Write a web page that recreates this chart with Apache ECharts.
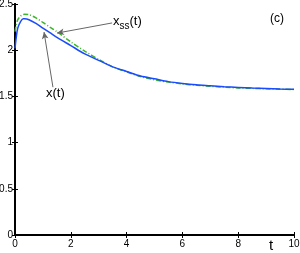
<!DOCTYPE html>
<html>
<head>
<meta charset="utf-8">
<script src="https://cdn.jsdelivr.net/npm/echarts@6/dist/echarts.min.js"></script>
<style>html,body{margin:0;padding:0;background:#fff}#c{width:300px;height:253px}</style>
</head>
<body>
<div id="c"></div>
<script>
var tValues = [0, 0.05, 0.1, 0.2, 0.3, 0.35, 0.5, 0.75, 1.0, 1.25, 1.5, 2.0, 2.5, 3.0, 3.5, 4.0, 4.5, 5.0, 5.5, 6.0, 6.5, 7.0, 7.5, 8.0, 8.5, 9.0, 9.5, 10];
var xValues = [2.02, 2.15, 2.24, 2.31, 2.34, 2.34, 2.33, 2.29, 2.24, 2.19, 2.14, 2.05, 1.96, 1.89, 1.82, 1.77, 1.72, 1.69, 1.66, 1.64, 1.625, 1.615, 1.605, 1.597, 1.59, 1.585, 1.58, 1.577];
var xssValues = [2.2, 2.28, 2.33, 2.37, 2.385, 2.39, 2.385, 2.35, 2.30, 2.25, 2.20, 2.09, 1.99, 1.90, 1.82, 1.765, 1.715, 1.68, 1.655, 1.635, 1.62, 1.61, 1.60, 1.592, 1.587, 1.582, 1.578, 1.575];
var xTicks = [0, 2, 4, 6, 8, 10];
var yTicks = [0, 0.5, 1, 1.5, 2, 2.5];
var arrowXss = [[3.48, 2.295], [1.505, 2.185]];
var arrowX = [[1.36, 1.60], [1.04, 2.197]];

function pairs(a, b) { return a.map(function (v, i) { return [v, b[i]]; }); }

var chart = echarts.init(document.getElementById('c'), null, {renderer: 'canvas'});
var font = 'Liberation Sans, Arial, Helvetica, sans-serif';
var axisLine = {show: true, lineStyle: {color: '#000', width: 2}};
var tick = {show: true, inside: true, length: 3, lineStyle: {color: '#000', width: 1}};
chart.setOption({
  animation: false,
  grid: {left: 15, right: 6, top: 4, bottom: 18, containLabel: false, outerBoundsMode: 'none'},
  xAxis: [
    {type: 'value', min: 0, max: 10, interval: 2, position: 'bottom',
     axisLine: axisLine, axisTick: tick, splitLine: {show: false},
     axisLabel: {color: '#000', fontSize: 10, fontFamily: font, margin: 4,
       formatter: function (v) { return xTicks.indexOf(v) >= 0 ? String(v) : ''; }}},
    {type: 'value', min: 0, max: 10, interval: 2, position: 'top',
     axisLine: axisLine, axisTick: tick, splitLine: {show: false}, axisLabel: {show: false}}
  ],
  yAxis: [
    {type: 'value', min: 0, max: 2.5, interval: 0.5, position: 'left',
     axisLine: axisLine, axisTick: tick, splitLine: {show: false},
     axisLabel: {color: '#000', fontSize: 10, fontFamily: font, margin: 2,
       formatter: function (v) { return yTicks.indexOf(v) >= 0 ? String(v) : ''; }}},
    {type: 'value', min: 0, max: 2.5, interval: 0.5, position: 'right',
     axisLine: axisLine, axisTick: tick, splitLine: {show: false}, axisLabel: {show: false}}
  ],
  series: [
    {type: 'line', name: 'xss', data: pairs(tValues, xssValues), smooth: 0.3, symbol: 'none',
     lineStyle: {color: '#3cb62a', width: 1.5, type: [5, 2, 1, 2]}, z: 2,
     markLine: {silent: true, symbol: ['none', 'arrow'], symbolSize: [5, 7],
       label: {show: false}, lineStyle: {color: '#666', width: 1, type: 'solid'},
       data: [[{coord: arrowXss[0]}, {coord: arrowXss[1]}], [{coord: arrowX[0]}, {coord: arrowX[1]}]]}},
    {type: 'line', name: 'x', data: pairs(tValues, xValues), smooth: 0.3, symbol: 'none',
     lineStyle: {color: '#1a4cff', width: 1.5}, z: 3}
  ],
  graphic: [
    {type: 'text', left: 113, top: 15, style: {
      text: '{a|x}{b|ss}{a|(t)}', fontFamily: font,
      rich: {a: {fontSize: 13, fontFamily: font, fill: '#000'},
             b: {fontSize: 10, fontFamily: font, fill: '#000', verticalAlign: 'bottom', padding: [9, 0, 0, 0]}}}},
    {type: 'text', left: 46, top: 87, style: {text: 'x(t)', fontSize: 13, fontFamily: font, fill: '#000'}},
    {type: 'text', left: 270, top: 13, style: {text: '(c)', fontSize: 12, fontFamily: font, fill: '#000'}},
    {type: 'text', left: 269, top: 238, style: {text: 't', fontSize: 15, fontFamily: font, fill: '#000'}}
  ]
});
</script>
</body>
</html>
